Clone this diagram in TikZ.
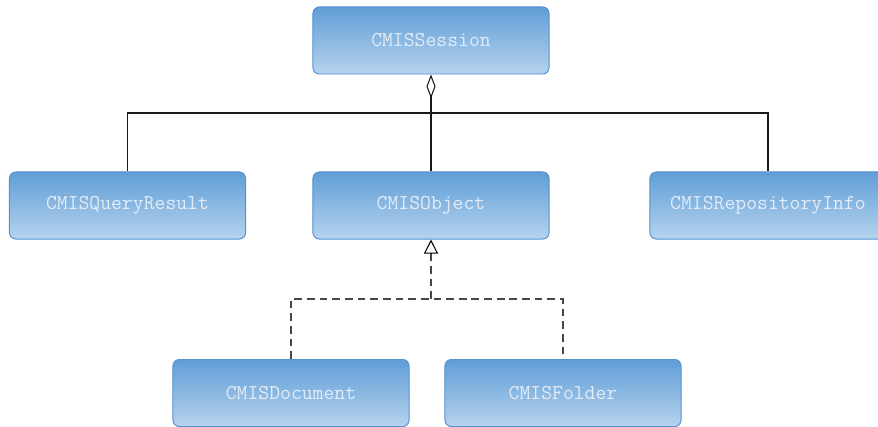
\documentclass[tikz,border=0pt]{standalone}
\usepackage{fontspec}
\usepackage{tikz}
\usetikzlibrary{arrows.meta,calc,positioning}

\definecolor{boxtop}{RGB}{96,158,214}
\definecolor{boxbottom}{RGB}{182,211,239}
\definecolor{boxline}{RGB}{84,146,208}
\definecolor{boxtext}{RGB}{226,236,247}
\definecolor{dashgray}{RGB}{70,70,70}

\begin{document}
\begin{tikzpicture}[x=0.025cm,y=-0.025cm,
    cls/.style={draw=boxline,line width=0.7pt,rounded corners=4.5pt,
      top color=boxtop,bottom color=boxbottom,
      minimum width=5.9cm,minimum height=1.675cm,inner sep=0pt,
      text=boxtext,font=\ttfamily\fontsize{15}{17}\selectfont},
    assoc/.style={line width=0.75pt,black!90},
    realize/.style={dashed,dash pattern=on 5.5pt off 3.5pt,line width=0.75pt,dashgray}]
    \useasboundingbox (0,0) rectangle (878,426);
    % Klasser
    \node[cls] (sess) at (431,40.5) {CMISSession};
    \node[cls] (qres) at (127.5,205.5) {CMISQueryResult};
    \node[cls] (obj) at (431,205.5) {CMISObject};
    \node[cls] (repo) at (768,205.5) {CMISRepositoryInfo};
    \node[cls] (doc) at (291,393) {CMISDocument};
    \node[cls] (fold) at (563,393) {CMISFolder};
    % Aggregering fra session
    \coordinate (agg) at (431,113);
    \draw[assoc] (qres.north) |- (agg) -| (repo.north);
    \draw[assoc,line width=1.1pt,-{Diamond[open,length=17pt,width=6.5pt,line width=0.75pt]}] (obj.north) -- (sess.south);
    % Nedarvning til objekt
    \coordinate (gen) at (431,299);
    \draw[realize] (doc.north) |- (gen) -| (fold.north);
    \draw[realize,-{Triangle[open,length=10pt,width=10pt,line width=0.75pt,black]}] (gen) -- (obj.south);
\end{tikzpicture}
\end{document}
